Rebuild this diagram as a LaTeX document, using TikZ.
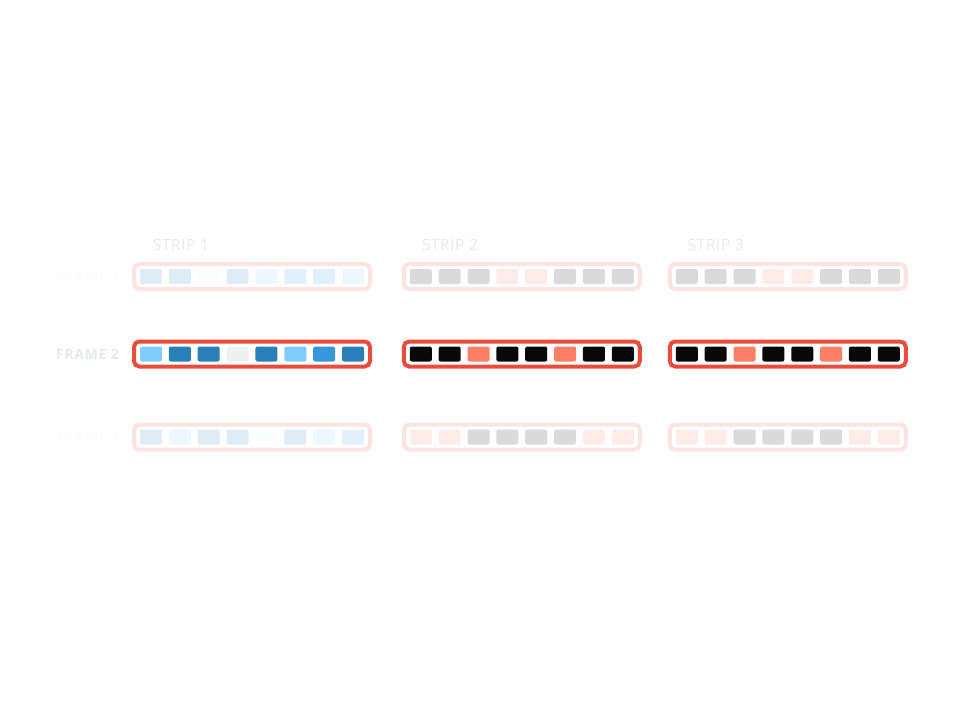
\documentclass[tikz,border=0pt]{standalone}
\usepackage{fontspec}
\setmainfont{Open Sans}
\newfontfamily\labfont[LetterSpace=4]{Open Sans}
\definecolor{blueD}{HTML}{2980B9}
\definecolor{blueM}{HTML}{3498DB}
\definecolor{blueL}{HTML}{80CCFF}
\definecolor{grayL}{HTML}{ECF0F1}
\definecolor{inkB}{HTML}{080808}
\definecolor{salmon}{HTML}{FF7F66}
\definecolor{frameRed}{HTML}{E74C3C}
\definecolor{labGray}{HTML}{E6EAEB}
\tikzset{
  cell/.style={rounded corners=1.5pt, minimum width=16.5pt, minimum height=11.25pt, inner sep=0pt, outer sep=0pt},
  stripbox/.style={draw=frameRed, line width=3pt, rounded corners=4pt, minimum width=177pt, minimum height=18.75pt, inner sep=0pt},
  faded/.style={opacity=0.15},
  striplabel/.style={anchor=west, inner sep=0pt, text=labGray, font=\labfont\fontsize{11.6pt}{13pt}\selectfont},
  framelabel/.style={anchor=east, inner sep=0pt, text=labGray, font=\labfont\bfseries\fontsize{10.6pt}{12pt}\selectfont},
}
\begin{document}
\begin{tikzpicture}[x=0.75pt,y=-0.75pt]
\useasboundingbox (0,0) rectangle (960,700);
\def\pitch{28.86}
% --- labels ---
\node[striplabel] (s1lab) at (152.5,245) {STRIP 1};
\node[striplabel] (s2lab) at (421.5,245) {STRIP 2};
\node[striplabel] (s3lab) at (687.5,245) {STRIP 3};
\node[framelabel, faded] (f1lab) at (119,276.5) {FRAME 1};
\node[framelabel] (f2lab) at (119,354) {FRAME 2};
\node[framelabel, faded] (f3lab) at (119,437) {FRAME 3};
% --- boxes ---
\foreach \sx/\sn in {140/1,409.8/2,675.8/3}{
  \foreach \ry/\fn/\op in {276.5/1/0.15,354/2/1,437/3/0.15}{
    \node[stripbox, opacity=\op] (box\sn\fn) at (\sx+112,\ry) {};
  }
}
% --- cells: strip 1 ---
\foreach \c [count=\i] in {blueD,blueD,grayL,blueD,blueL,blueM,blueM,blueL}{
  \node[cell, fill=\c, faded] (c1-1-\i) at (140+11+\pitch*\i-\pitch,276.5) {};
}
\foreach \c [count=\i] in {blueL,blueD,blueD,grayL,blueD,blueL,blueM,blueD}{
  \node[cell, fill=\c] (c1-2-\i) at (140+11+\pitch*\i-\pitch,354) {};
}
\foreach \c [count=\i] in {blueD,blueL,blueD,blueD,grayL,blueD,blueL,blueM}{
  \node[cell, fill=\c, faded] (c1-3-\i) at (140+11+\pitch*\i-\pitch,437) {};
}
% --- cells: strips 2 and 3 ---
\foreach \sx/\sn in {409.8/2,675.8/3}{
  \foreach \c [count=\i] in {inkB,inkB,inkB,salmon,salmon,inkB,inkB,inkB}{
    \node[cell, fill=\c, faded] (c\sn-1-\i) at (\sx+11+\pitch*\i-\pitch,276.5) {};
  }
  \foreach \c [count=\i] in {inkB,inkB,salmon,inkB,inkB,salmon,inkB,inkB}{
    \node[cell, fill=\c] (c\sn-2-\i) at (\sx+11+\pitch*\i-\pitch,354) {};
  }
  \foreach \c [count=\i] in {salmon,salmon,inkB,inkB,inkB,inkB,salmon,salmon}{
    \node[cell, fill=\c, faded] (c\sn-3-\i) at (\sx+11+\pitch*\i-\pitch,437) {};
  }
}
\end{tikzpicture}
\end{document}
